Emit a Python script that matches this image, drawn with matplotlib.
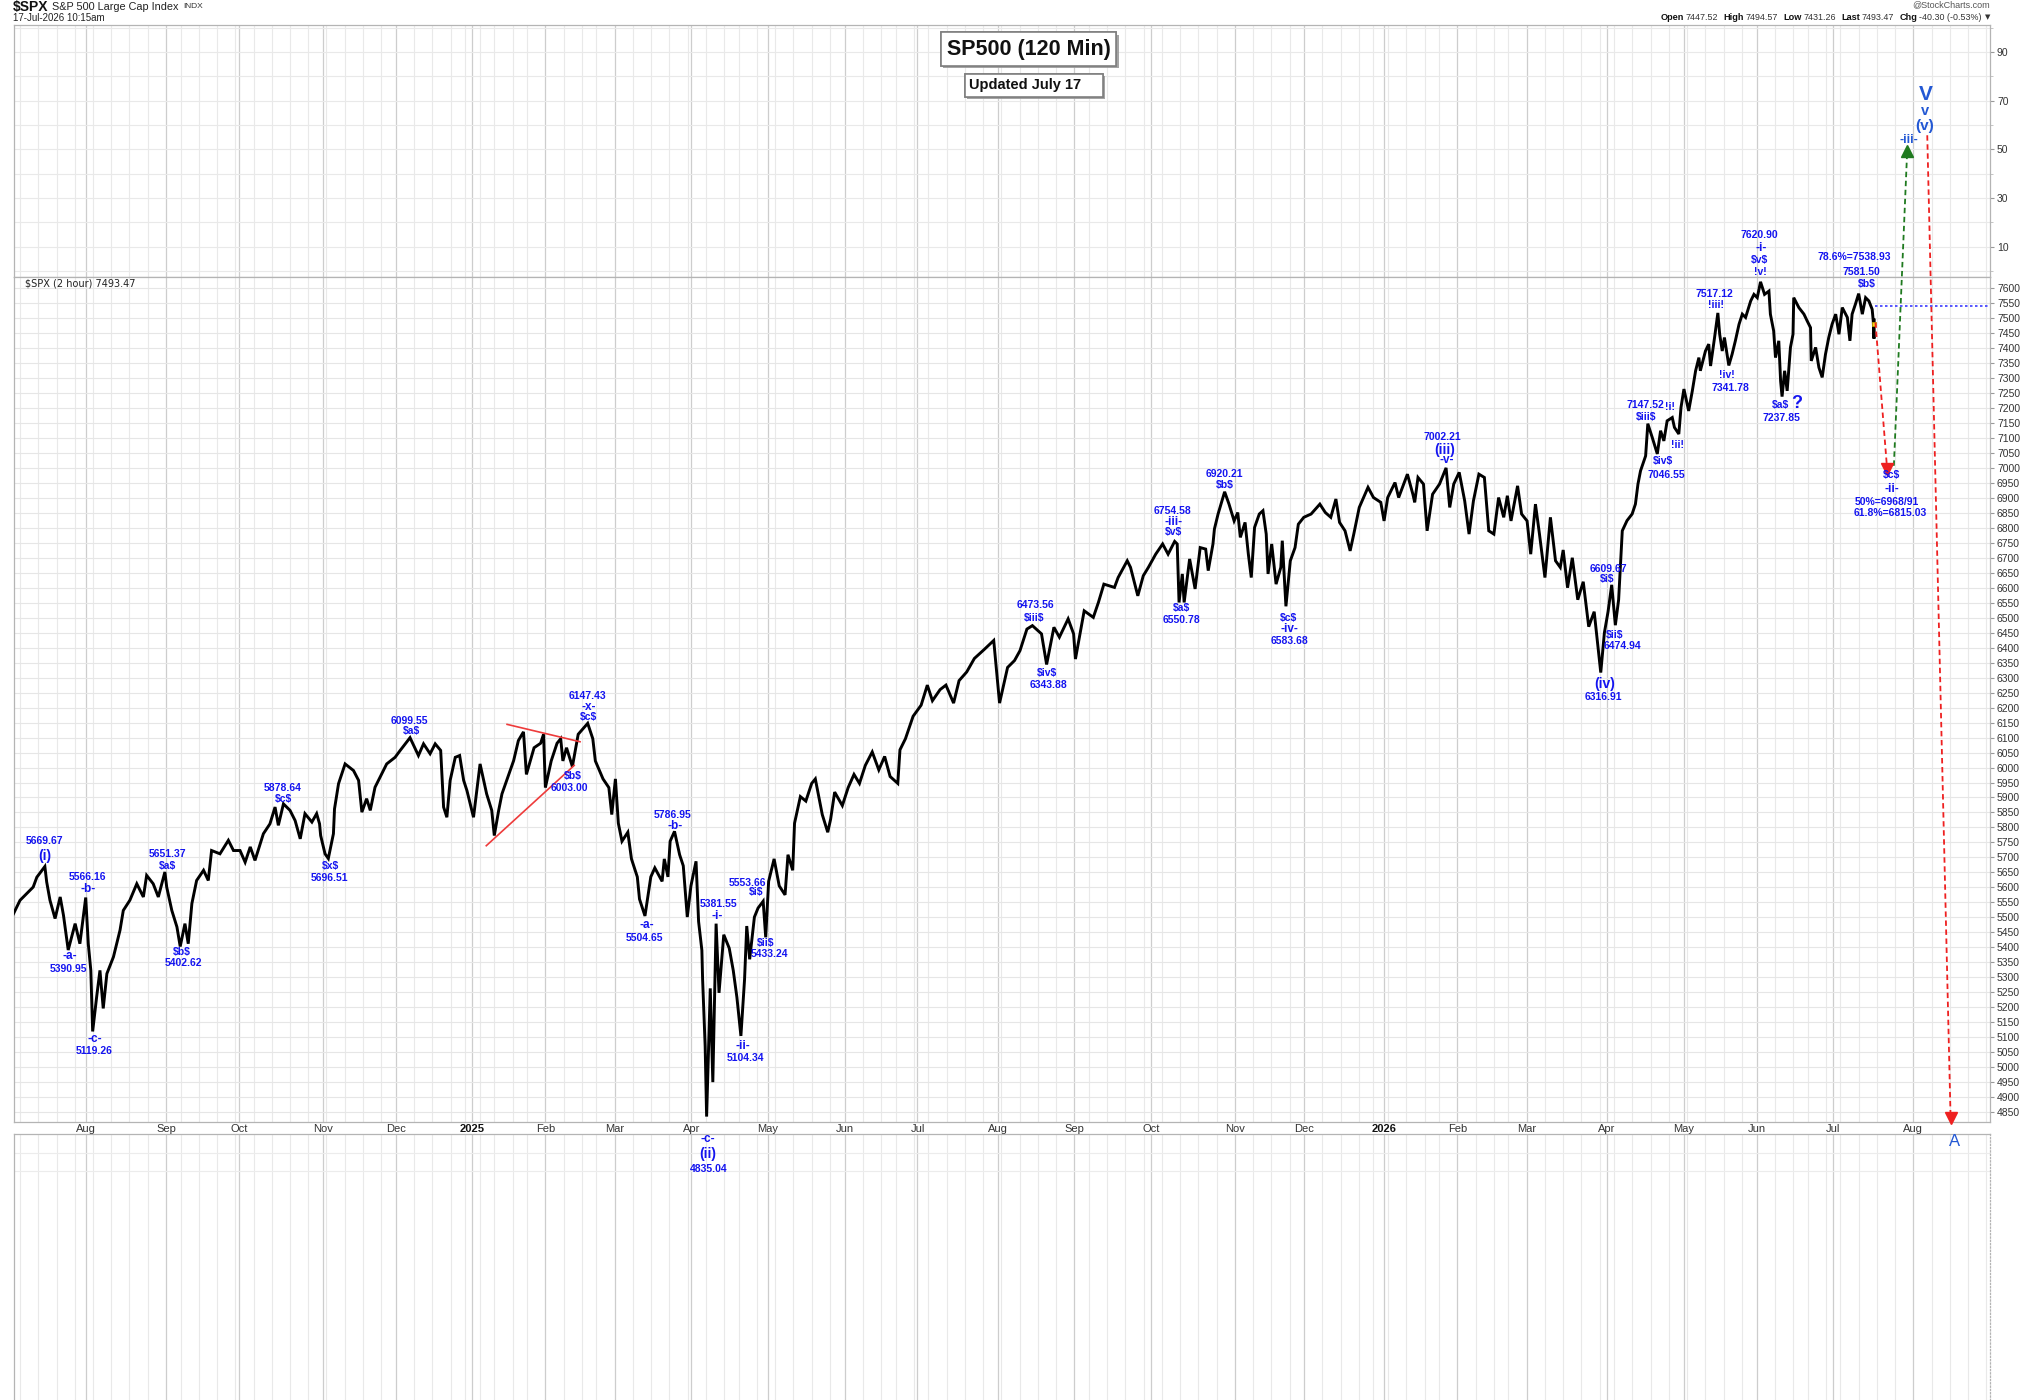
import matplotlib
matplotlib.use("Agg")
import matplotlib.pyplot as plt
import matplotlib.patheffects as pe
from matplotlib.lines import Line2D
from matplotlib.patches import Rectangle
import numpy as np
import pandas as pd

W, H = 2025, 1400
plt.rcParams['font.family'] = ['Liberation Sans', 'DejaVu Sans']

# ---------------- calendar (NYSE sessions) ----------------
holidays = ['2024-07-04', '2024-09-02', '2024-11-28', '2024-12-25', '2025-01-01', '2025-01-09',
            '2025-01-20', '2025-02-17', '2025-04-18', '2025-05-26', '2025-06-19', '2025-07-04',
            '2025-09-01', '2025-11-27', '2025-12-25', '2026-01-01', '2026-01-19', '2026-02-16',
            '2026-04-03', '2026-05-25', '2026-06-19', '2026-07-03', '2026-09-07']

# ---------------- price path: session number (trading sessions since 1-Jul-2024), price ----------------
session = [
    2.2, 4.0, 5.8, 7.6, 8.6, 10.8, 11.3, 12.2, 13.6, 15.0, 15.9, 17.2, 19.1, 20.4, 22.0, 22.7, 23.4, 23.9,
    25.0, 25.9, 26.8, 27.8, 29.6, 31.4, 32.3, 34.1, 36.0, 37.8, 38.7, 40.5, 41.9, 43.7, 44.2, 45.6, 47.0,
    47.9, 49.2, 50.1, 51.1, 52.4, 54.3, 55.6, 56.5, 58.8, 61.1, 62.5, 64.3, 65.7, 67.1, 68.4, 70.7, 72.5,
    73.9, 74.8, 76.2, 78.0, 79.4, 80.8, 82.1, 84.0, 85.3, 86.1, 86.4, 87.6, 88.5, 89.9, 90.2, 91.3, 93.1,
    95.4, 96.8, 97.7, 99.0, 100.0, 101.3, 102.7, 104.5, 106.8, 108.2, 110.9, 113.2, 114.6, 116.4, 117.8,
    119.3, 120.1, 121.0, 121.9, 123.3, 124.5, 125.6, 126.5, 128.3, 130.1, 131.9, 133.3, 134.0, 135.2,
    136.1, 137.4, 139.3, 140.6, 142.0, 142.8, 144.9, 146.7, 147.5, 148.0, 149.6, 151.2, 152.2, 152.8,
    153.8, 155.4, 157.0, 159.6, 161.0, 161.7, 163.8, 165.4, 166.2, 167.2, 168.0, 169.0, 170.6, 171.6,
    173.2, 173.8, 175.3, 176.9, 178.0, 180.0, 180.6, 181.6, 182.2, 183.4, 184.8, 185.8, 186.9, 187.9,
    189.3, 190.0, 190.9, 191.1, 191.8, 192.2, 193.2, 193.9, 194.8, 195.6, 196.9, 198.4, 199.5, 200.5,
    201.6, 202.6, 203.2, 204.0, 205.3, 206.3, 207.7, 208.4, 209.2, 210.7, 212.1, 213.7, 214.5, 215.8,
    216.3, 217.9, 219.4, 221.0, 222.0, 223.9, 225.4, 226.2, 227.3, 229.4, 231.0, 232.6, 234.1, 235.7,
    237.6, 239.4, 241.0, 242.5, 244.6, 245.2, 246.7, 248.8, 251.0, 252.7, 254.1, 256.2, 257.8, 259.9,
    261.4, 263.5, 265.6, 268.3, 270.9, 271.6, 272.5, 274.7, 276.6, 278.1, 280.0, 281.5, 284.0, 285.4,
    287.4, 288.9, 291.3, 292.8, 293.3, 295.7, 298.2, 299.6, 301.1, 304.0, 305.0, 307.5, 308.4, 310.4,
    311.9, 313.3, 315.3, 317.2, 318.7, 320.5, 321.2, 321.7, 322.6, 323.1, 324.6, 326.1, 327.5, 329.0,
    329.7, 331.0, 331.4, 332.4, 334.2, 335.4, 336.8, 337.8, 338.5, 339.8, 340.7, 341.5, 342.4, 343.7,
    344.7, 345.6, 346.1, 347.1, 348.3, 349.6, 350.0, 351.0, 352.2, 353.5, 354.4, 355.9, 357.9, 360.3,
    361.8, 363.3, 364.7, 365.7, 367.2, 368.6, 369.6, 371.1, 373.5, 375.0, 377.0, 377.9, 378.9, 380.9,
    381.9, 384.3, 385.8, 386.3, 387.2, 388.7, 389.2, 389.7, 391.2, 393.1, 394.9, 395.9, 397.0, 398.5,
    400.0, 401.2, 402.4, 403.9, 405.4, 406.6, 408.0, 409.3, 410.7, 411.7, 412.7, 414.5, 415.6, 417.1,
    418.1, 419.4, 420.5, 422.0, 423.5, 424.9, 426.2, 427.0, 428.2, 429.5, 431.0, 432.5, 434.0, 435.5,
    437.3, 438.3, 439.3, 440.3, 441.3, 442.2, 443.2, 444.5, 445.9, 446.8, 447.5, 448.2, 449.6, 450.2,
    451.4, 452.8, 453.7, 454.6, 455.5, 456.9, 457.5, 458.7, 459.3, 460.1, 461.4, 462.4, 463.3, 464.2,
    464.6, 466.0, 466.9, 467.4, 468.5, 469.4, 469.9, 470.6, 471.2, 472.4, 473.3, 474.2, 475.2, 476.1,
    477.0, 478.4, 479.3, 480.2, 481.1, 482.2, 483.4, 483.8, 484.7, 485.2, 486.1, 486.6, 487.0, 487.7,
    488.4, 489.3, 490.0, 490.2, 491.6, 493.0, 493.9, 494.8, 495.0, 496.2, 497.1, 498.0, 498.9, 499.8,
    500.7, 501.7, 502.6, 503.5, 504.9, 505.6, 506.2, 507.1, 508.0, 509.0, 509.9, 510.8, 511.7, 512.0,
    512.2, 512.25]
price = [
    5512, 5557, 5579, 5601, 5634, 5669.67, 5618, 5557, 5496, 5568, 5507, 5390.95, 5479, 5412, 5566.16, 5412,
    5323, 5119.26, 5235, 5323, 5196, 5312, 5368, 5457, 5523, 5557, 5612, 5568, 5640, 5612, 5568, 5651.37,
    5601, 5523, 5468, 5402.62, 5479, 5412, 5546, 5623, 5657, 5623, 5723, 5712, 5757, 5723, 5723, 5684, 5735,
    5690, 5779, 5812, 5868, 5807, 5878.64, 5857, 5823, 5762, 5846, 5818, 5846, 5812, 5773, 5712, 5696.51,
    5779, 5862, 5946, 6012, 5990, 5957, 5851, 5896, 5857, 5934, 5968, 6012, 6034, 6057, 6099.55, 6040, 6079,
    6046, 6079, 6057, 5868, 5834, 5957, 6034, 6040, 5957, 5923, 5834, 6012, 5912, 5857, 5773, 5857, 5912,
    5957, 6023, 6090, 6119, 5977, 6066, 6081, 6111, 5933, 6022, 6081, 6096, 6022, 6066, 6003.00, 6111,
    6147.43, 6096, 6022, 5962, 5933, 5843, 5962, 5814, 5754, 5784, 5695, 5635, 5561, 5504.65, 5635, 5665,
    5620, 5695, 5635, 5754, 5786.95, 5709, 5672, 5501, 5605, 5687, 5486, 5390, 5293, 5070, 4835.04, 5263,
    4950, 5479, 5248, 5442, 5397, 5323, 5233, 5104.34, 5293, 5471, 5360, 5501, 5531, 5553.66, 5433.24,
    5620, 5695, 5605, 5575, 5709, 5657, 5814, 5903, 5888, 5947, 5962, 5843, 5784, 5828, 5918, 5873, 5933,
    5977, 5947, 6007, 6052, 5992, 6037, 5970, 5947, 6059, 6096, 6171, 6208, 6275, 6223, 6260, 6275, 6215,
    6290, 6319, 6364, 6394, 6424, 6334, 6215, 6334, 6357, 6390, 6462, 6473.56, 6446, 6343.88, 6468, 6435,
    6496, 6446, 6362, 6523, 6501, 6551, 6612, 6601, 6634, 6690, 6668, 6573, 6640, 6668, 6712, 6746, 6712,
    6754.58, 6746, 6550.78, 6646, 6551, 6696, 6596, 6734, 6729, 6657, 6746, 6796, 6846, 6920.21, 6879,
    6823, 6851, 6768, 6818, 6712, 6634, 6801, 6846, 6857, 6779, 6646, 6746, 6612, 6668, 6757, 6538, 6690,
    6734, 6812, 6835, 6846, 6879, 6851, 6835, 6896, 6818, 6790, 6723, 6779, 6868, 6935, 6901, 6885, 6823,
    6901, 6951, 6901, 6979, 6912, 6885, 6968, 6946, 6868, 6790, 6912, 6946, 7000, 6868, 6946, 6985, 6890,
    6779, 6890, 6979, 6968, 6790, 6779, 6901, 6835, 6907, 6823, 6940, 6846, 6823, 6712, 6879, 6779, 6634,
    6835, 6690, 6668, 6726, 6600, 6700, 6560, 6620, 6470, 6520, 6316.91, 6450, 6520, 6609.67, 6474.94,
    6560, 6790, 6824, 6846, 6879, 6946, 6990, 7040, 7147.52, 7102, 7046.55, 7124, 7090, 7157, 7168, 7135,
    7113, 7202, 7263, 7190, 7257, 7324, 7368, 7324, 7390, 7413, 7340, 7435, 7517.12, 7446, 7390, 7435,
    7341.78, 7379, 7424, 7479, 7513, 7502, 7557, 7579, 7568, 7620.90, 7579, 7590, 7513, 7457, 7368, 7424,
    7290, 7237.85, 7324, 7257, 7402, 7446, 7568, 7535, 7513, 7490, 7468, 7357, 7402, 7335, 7302, 7379,
    7435, 7479, 7513, 7446, 7535, 7502, 7424, 7513, 7546, 7581.50, 7513, 7568, 7557, 7529, 7490, 7431.26,
    7493.47]

retrace_level = 7538.93

# Elliott-wave labels: text, session, price, style
wave_labels = [
    ("5669.67", 10.75, 5756, 'n'), ("(i)", 10.9, 5705, 'p'),
    ("5566.16", 22.45, 5634, 'n'), ("-b-", 22.6, 5593, 'w'),
    ("-a-", 17.7, 5371, 'w'), ("5390.95", 17.3, 5328, 'n'),
    ("-c-", 24.55, 5093, 'w'), ("5119.26", 24.2, 5055, 'n'),
    ("5651.37", 44.5, 5712, 'n'), ("$a$", 44.3, 5673, 'n'),
    ("$b$", 48.2, 5385, 'n'), ("5402.62", 48.9, 5346, 'n'),
    ("5878.64", 76.1, 5931, 'n'), ("$c$", 76.3, 5894, 'n'),
    ("$x$", 89.2, 5672, 'n'), ("5696.51", 88.7, 5632, 'n'),
    ("6099.55", 110.8, 6156, 'n'), ("$a$", 111.2, 6121, 'n'),
    ("6147.43", 159.6, 6239, 'n'), ("-x-", 159.8, 6203, 'w'), ("$c$", 159.8, 6169, 'n'),
    ("$b$", 155.4, 5973, 'n'), ("6003.00", 154.6, 5933, 'n'),
    ("5786.95", 182.9, 5843, 'n'), ("-b-", 183.6, 5806, 'w'),
    ("-a-", 175.9, 5474, 'w'), ("5504.65", 175.1, 5431, 'n'),
    ("5381.55", 195.5, 5543, 'n'), ("-i-", 195.0, 5504, 'w'),
    ("5553.66", 203.4, 5616, 'n'), ("$i$", 205.8, 5583, 'n'),
    ("$ii$", 208.4, 5415, 'n'), ("5433.24", 209.4, 5376, 'n'),
    ("-ii-", 202.1, 5070, 'w'), ("5104.34", 202.9, 5032, 'n'),
    ("-c-", 192.5, 4761, 'w'), ("(ii)", 192.5, 4711, 'p'), ("4835.04", 192.7, 4661, 'n'),
    ("6473.56", 282.3, 6542, 'n'), ("$iii$", 282.0, 6499, 'n'),
    ("$iv$", 285.4, 6315, 'n'), ("6343.88", 285.9, 6277, 'n'),
    ("6754.58", 319.9, 6855, 'n'), ("-iii-", 320.3, 6818, 'w'), ("$v$", 320.3, 6785, 'n'),
    ("$a$", 322.3, 6532, 'n'), ("6550.78", 322.5, 6493, 'n'),
    ("6920.21", 334.2, 6981, 'n'), ("$b$", 334.2, 6942, 'n'),
    ("$c$", 351.7, 6499, 'n'), ("-iv-", 352.0, 6462, 'w'), ("6583.68", 352.0, 6423, 'n'),
    ("7002.21", 393.9, 7103, 'n'), ("(iii)", 394.6, 7061, 'p'), ("-v-", 395.1, 7027, 'w'),
    ("6609.67", 439.4, 6662, 'n'), ("$i$", 439.0, 6628, 'n'),
    ("$ii$", 441.1, 6442, 'n'), ("6474.94", 443.3, 6404, 'n'),
    ("(iv)", 438.3, 6279, 'p'), ("6316.91", 437.9, 6236, 'n'),
    ("7147.52", 449.4, 7209, 'n'), ("$iii$", 449.8, 7170, 'n'),
    ("!i!", 456.4, 7202, 'n'), ("!ii!", 458.4, 7076, 'n'),
    ("$iv$", 454.4, 7022, 'n'), ("7046.55", 455.3, 6976, 'n'),
    ("7517.12", 468.5, 7579, 'n'), ("!iii!", 468.8, 7543, 'n'),
    ("!iv!", 472.0, 7310, 'n'), ("7341.78", 472.9, 7266, 'n'),
    ("7620.90", 480.9, 7777, 'n'), ("-i-", 481.4, 7735, 'w'), ("$v$", 480.9, 7695, 'n'),
    ("!v!", 481.1, 7655, 'n'),
    ("$a$", 486.6, 7210, 'n'), ("?", 491.0, 7215, 'q'), ("7237.85", 486.9, 7168, 'n'),
    ("78.6%=7538.93", 506.9, 7704, 'n'), ("7581.50", 508.8, 7653, 'n'), ("$b$", 510.2, 7613, 'n'),
    ("$c$", 517.0, 6977, 'n'), ("-ii-", 517.0, 6929, 'w'),
    ("50%=6968/91", 515.6, 6885, 'n'), ("61.8%=6815.03", 516.7, 6849, 'n'),
    ("-iii-", 521.8, 8094, 'w2'), ("V", 526.3, 8246, 'V'), ("v", 526.2, 8190, 'v'),
    ("(v)", 526.2, 8140, 'pv'), ("A", 534.3, 4751, 'A'),
]

# projection arrows: (start session, start price, tip session, tip price, colour)
arrows = [
    (512.6, 7485, 515.8, 6996, '#ee2020'),
    (517.65, 7007, 521.3, 8059, '#1f7a1f'),
    (526.8, 8110, 533.2, 4829, '#ee2020'),
]
# triangle trendlines
trend_lines = [
    (137.5, 6144, 157.5, 6086),
    (131.8, 5739, 155.9, 6007),
]

# ---------------- figure ----------------
fig = plt.figure(figsize=(W / 100, H / 100), dpi=100)
fig.patch.set_facecolor('white')


def frect(l, t, r, b):
    return [l / W, 1 - b / H, (r - l) / W, (b - t) / H]


ax_top = fig.add_axes(frect(14, 25, 1990, 277))
ax = fig.add_axes(frect(14, 277, 1990, 1122))
ax_bot = fig.add_axes(frect(14, 1134, 1990, 1400))
ax.set_zorder(3)
ax_top.set_zorder(1)
ax_bot.set_zorder(1)

cal = pd.bdate_range('2024-07-01', '2026-10-30', freq='C', holidays=holidays)
idx = pd.Series(np.arange(len(cal)), index=cal)
month_first = idx.groupby([cal.year, cal.month]).first()
week_first = idx.groupby(cal.to_period('W')).first().values
XMIN, XMAX = 2.34, 544.0
month_pos, month_lab = [], []
for (yy, mm), v in month_first.items():
    if XMIN < v < XMAX - 1:
        month_pos.append(v)
        month_lab.append(str(yy) if mm == 1 else pd.Timestamp(yy, mm, 1).strftime('%b'))

SP = '#b4b4b4'
for a in (ax_top, ax, ax_bot):
    a.set_xlim(XMIN, XMAX)
    a.set_xticks(month_pos)
    a.set_xticks([w for w in week_first if XMIN < w < XMAX], minor=True)
    a.grid(True, which='major', axis='x', color='#cdcdcd', lw=0.9)
    a.grid(True, which='minor', axis='x', color='#e9e9e9', lw=0.8)
    for sp in a.spines.values():
        sp.set_color(SP)
        sp.set_linewidth(0.9)
    a.set_axisbelow(True)

# upper empty panel
ax_top.set_ylim(-2.45, 101.1)
ax_top.set_yticks([10, 30, 50, 70, 90])
ax_top.set_yticks(np.arange(0, 101, 10), minor=True)
ax_top.grid(True, which='both', axis='y', color='#e9e9e9', lw=0.8)
ax_top.yaxis.tick_right()
ax_top.tick_params(axis='y', which='major', labelsize=7.5, labelcolor='#333', length=3, color='#999', pad=2)
ax_top.tick_params(axis='y', which='minor', length=2, color='#bbb')
ax_top.tick_params(axis='x', which='both', length=0, labelbottom=False)

# bottom empty panel
ax_bot.set_ylim(0, 1)
ax_bot.set_yticks([0.86, 0.93])
ax_bot.grid(True, which='major', axis='y', color='#ececec', lw=0.8)
ax_bot.tick_params(axis='both', which='both', length=0, labelbottom=False, labelleft=False)
ax_bot.spines['bottom'].set_visible(False)
ax_bot.spines['right'].set_linestyle(':')

# main price panel
ax.set_ylim(4817, 7637)
ax.set_yticks(np.arange(4850, 7601, 50))
ax.grid(True, which='major', axis='y', color='#e6e6e6', lw=0.8)
ax.yaxis.tick_right()
ax.tick_params(axis='y', labelsize=7.5, labelcolor='#333', length=3, color='#999', pad=2)
ax.set_xticklabels(month_lab, family=['Liberation Sans Narrow', 'Liberation Sans'])
ax.tick_params(axis='x', which='both', length=0, labelsize=8, labelcolor='#333', pad=1.5)
for lbl in ax.get_xticklabels():
    if lbl.get_text().isdigit():
        lbl.set_fontweight('bold')
        lbl.set_color('#111')

ax.plot(session, price, color='black', lw=2.1, solid_joinstyle='miter', zorder=4)

# last bar highlight
ax.plot([session[-1]], [price[-1] - 12], marker='s', ms=3.5, mfc='#f2d21a', mec='#b89c00', mew=0.6,
        zorder=5)

# retracement level
ax.plot([session[-1] + 0.2, XMAX], [retrace_level, retrace_level], color='#3a3aff', lw=1.2,
        ls=(0, (1.5, 1.5)), zorder=4, clip_on=False)

for x0, y0, x1, y1 in trend_lines:
    ax.plot([x0, x1], [y0, y1], color='#ee3b3b', lw=1.2, zorder=5)

for x0, y0, x1, y1, c in arrows:
    ax.plot([x0, x1], [y0, y1], color=c, lw=1.3, ls=(0, (3, 2)), zorder=6, clip_on=False)
    ax.plot([x1], [y1], marker='^' if y1 > y0 else 'v', ms=9, color=c, mec=c, zorder=7,
            clip_on=False)

BLUE = '#1414f0'
BLUE2 = '#2358d4'
NARROW = ['Liberation Sans Narrow', 'Liberation Sans', 'DejaVu Sans']
styles = {
    'n': dict(fontsize=7.5, fontweight='bold', family=NARROW, color=BLUE),
    'w': dict(fontsize=8.5, fontweight='bold', color=BLUE),
    'p': dict(fontsize=10, fontweight='bold', color=BLUE),
    'q': dict(fontsize=13, fontweight='bold', color=BLUE),
    'w2': dict(fontsize=9, fontweight='bold', color=BLUE2),
    'V': dict(fontsize=15, fontweight='bold', color=BLUE2),
    'v': dict(fontsize=10.5, fontweight='bold', color=BLUE2),
    'pv': dict(fontsize=11, fontweight='bold', color=BLUE2),
    'A': dict(fontsize=12, color=BLUE2),
}
for txt, sx, py, st in wave_labels:
    ax.text(sx, py, txt, ha='center', va='center', clip_on=False, zorder=8, parse_math=False,
            **styles[st])

# ---------------- header texts ----------------
renderer = fig.canvas.get_renderer()


def text_row(items, x, y, align='left'):
    objs = []
    total = 0.0
    for txt, kw, gap in items:
        t = fig.text(0, 1 - y / H, txt, va='center', ha='left', parse_math=False, **kw)
        w = t.get_window_extent(renderer).width
        objs.append((t, w, gap))
        total += w + gap
    total -= items[-1][2]
    cx = x - total if align == 'right' else x
    for t, w, gap in objs:
        t.set_x(cx / W)
        cx += w + gap


text_row([("$SPX", dict(fontsize=10, fontweight='bold', color='#111'), 4),
          ("S&P 500 Large Cap Index", dict(fontsize=7.8, color='#222'), 4),
          ("INDX", dict(fontsize=6, color='#333'), 0)], 13, 7)
fig.text(13 / W, 1 - 18 / H, "17-Jul-2026 10:15am", fontsize=7, color='#222', va='center', ha='left')

fig.text(1990 / W, 1 - 5 / H, "@StockCharts.com", fontsize=6.5, color='#555', va='center', ha='right')
B = dict(fontsize=6.6, fontweight='bold', color='#111')
N = dict(fontsize=6.4, color='#333')
text_row([("Open", B, 2), ("7447.52", N, 5), ("High", B, 2), ("7494.57", N, 5),
          ("Low", B, 2), ("7431.26", N, 5), ("Last", B, 2), ("7493.47", N, 5),
          ("Chg", B, 2), ("-40.30 (-0.53%)", N, 3),
          ("\u25BC", dict(fontsize=5, color='#333', family=['DejaVu Sans']), 0)], 1990, 17,
         align='right')

# panel legend
fig.text(25 / W, 1 - 284 / H, "$SPX (2 hour) 7493.47", fontsize=7, color='#222', va='center',
         ha='left', family=['DejaVu Sans'], parse_math=False)
for lx, ly0, ly1, tk in ((17, 280, 289, -2), (21.5, 281, 288, 2)):
    fig.add_artist(Line2D([lx / W, lx / W], [1 - ly0 / H, 1 - ly1 / H], color='#444', lw=0.8))
    fig.add_artist(Line2D([lx / W, (lx + tk) / W], [1 - (ly0 + 4) / H, 1 - (ly0 + 4) / H],
                          color='#444', lw=0.8))

# title boxes
t1 = fig.text(1028.5 / W, 1 - 49 / H, "SP500 (120 Min)", fontsize=15.5, fontweight='bold',
              color='#111', ha='center', va='center',
              bbox=dict(boxstyle='square,pad=0.28', fc='white', ec='#808080', lw=1.2))
t1.get_bbox_patch().set_path_effects([pe.withSimplePatchShadow(offset=(1.5, -1.5),
                                                               shadow_rgbFace='#9a9a9a', alpha=0.9),
                                      pe.Normal()])
box2 = Rectangle((965 / W, 1 - 97 / H), (1103 - 965) / W, 23 / H, transform=fig.transFigure,
                 fc='white', ec='#808080', lw=1.2, zorder=9)
box2.set_path_effects([pe.withSimplePatchShadow(offset=(1.5, -1.5), shadow_rgbFace='#9a9a9a',
                                                alpha=0.9), pe.Normal()])
fig.add_artist(box2)
fig.text(969 / W, 1 - 85.5 / H, "Updated July 17", fontsize=10.5, fontweight='bold', color='#111',
         ha='left', va='center', zorder=10)

fig.savefig('out.png', dpi=100, facecolor='white')
